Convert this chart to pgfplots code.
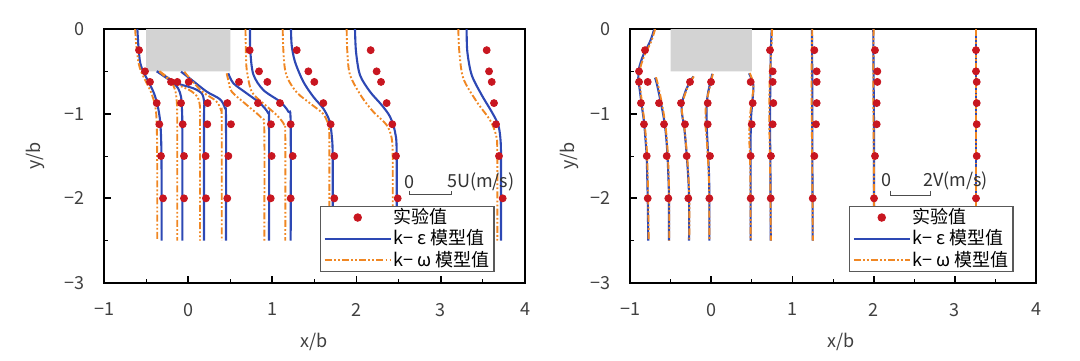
\documentclass[border=0pt]{standalone}
\usepackage{fontspec}
\setmainfont{Noto Sans CJK SC}
\usepackage{pgfplots}
\pgfplotsset{compat=1.18}
\definecolor{kblue}{RGB}{45,72,180}
\definecolor{korange}{RGB}{240,135,35}
\definecolor{dotred}{RGB}{200,22,32}
\definecolor{blockgray}{RGB}{211,211,211}
\tikzset{kwdash/.style={dash pattern=on 3.5pt off 1.1pt on 0.9pt off 1.1pt on 0.9pt off 1.1pt}}
\pgfplotsset{
  ke/.style={kblue, line width=1.05pt, smooth, no marks, forget plot},
  kw/.style={korange, line width=0.95pt, smooth, no marks, forget plot, kwdash},
  ex/.style={only marks, mark=*, mark size=1.75pt, color=dotred, mark options={draw=dotred, fill=dotred}, forget plot},
  myaxis/.style={scale only axis, anchor=south west, height=127pt,
    xmin=-1, xmax=4, ymin=-3, ymax=0,
    xtick={-1,0,1,2,3,4}, xticklabels={−1,0,1,2,3,4},
    ytick={-3,-2,-1,0}, yticklabels={−3,−2,−1,0},
    minor xtick={-0.5,0.5,1.5,2.5,3.5}, minor ytick={-2.5,-1.5,-0.5},
    xtick pos=bottom, ytick pos=left, tick align=inside,
    major tick length=3.4pt, minor tick length=2pt,
    major tick style={black, line width=0.9pt}, minor tick style={black, line width=0.5pt},
    axis line style={line width=0.8pt},
    tick label style={font=\fontsize{9}{10}\selectfont, text=black!75},
    xticklabel style={yshift=-6.5pt}, yticklabel style={xshift=-6pt},
    label style={font=\fontsize{9}{10}\selectfont, text=black!75},
    legend cell align=left,
    legend style={anchor=north west, draw=black!65, line width=0.7pt, fill=white,
      font=\fontsize{9}{10}\selectfont, inner xsep=1.5pt, inner ysep=0.2pt,
      nodes={inner sep=0.8pt}, row sep=0pt},
  }
}
\begin{document}
\begin{tikzpicture}
\path[use as bounding box] (0,0) rectangle (540pt,180pt);
% ---------------- LEFT: U ----------------
\begin{axis}[myaxis, at={(52pt,38.5pt)}, width=210.5pt,
  xlabel={x/b}, ylabel={y/b},
  xlabel style={at={(axis description cs:0.5,-0.231)}, anchor=center},
  ylabel style={at={(axis description cs:-0.164,0.5)}, anchor=center},
  legend style={at={(axis cs:1.565,-2.087)}}]
\addlegendimage{legend image code/.code={\fill[dotred] (16.5pt,0pt) circle (1.75pt);}}
\addlegendentry{实验值}
\addlegendimage{legend image code/.code={\draw[kblue, line width=1.05pt] (0pt,0pt)--(33pt,0pt);}}
\addlegendentry{k− ε 模型值}
\addlegendimage{legend image code/.code={\draw[korange, line width=0.95pt, kwdash] (0pt,0pt)--(33pt,0pt);}}
\addlegendentry{k− ω 模型值}
\addplot[fill=blockgray, draw=none, forget plot] coordinates {(-0.5,0) (0.5,0) (0.5,-0.5) (-0.5,-0.5)} \closedcycle;
% experiments
\addplot[ex] coordinates {
(-0.584,-0.25) (-0.513,-0.5) (-0.454,-0.625) (-0.374,-0.875) (-0.343,-1.125) (-0.323,-1.5) (-0.299,-2.0)
(-0.204,-0.625) (-0.085,-0.875) (-0.065,-1.125) (-0.05,-1.5) (-0.05,-2.0)
(-0.129,-0.625) (0.231,-0.875) (0.227,-1.125) (0.207,-1.5) (0.211,-2.0)
(0.006,-0.625) (0.465,-0.875) (0.508,-1.125) (0.477,-1.5) (0.464,-2.0)
(0.603,-0.625) (0.829,-0.875) (0.983,-1.125) (0.991,-1.5) (0.980,-2.0)
(0.730,-0.25) (0.841,-0.5) (0.94,-0.625) (1.09,-0.875) (1.217,-1.125) (1.241,-1.5) (1.217,-2.0)
(1.289,-0.25) (1.427,-0.5) (1.498,-0.625) (1.605,-0.875) (1.692,-1.125) (1.735,-1.5) (1.735,-2.0)
(2.167,-0.25) (2.238,-0.5) (2.29,-0.625) (2.357,-0.875) (2.424,-1.125) (2.468,-1.5) (2.488,-2.0)
(3.545,-0.25) (3.573,-0.5) (3.605,-0.625) (3.632,-0.875) (3.656,-1.125) (3.691,-1.5) (3.735,-2.0)};
% k-epsilon
\addplot[ke] coordinates {(-0.604,0) (-0.595,-0.15) (-0.588,-0.25) (-0.57,-0.4) (-0.535,-0.5) (-0.47,-0.625) (-0.41,-0.75) (-0.37,-0.875) (-0.345,-1.0) (-0.33,-1.125) (-0.32,-1.35) (-0.316,-1.75) (-0.315,-2.5)};
\addplot[ke] coordinates {(-0.37,-0.5) (-0.30,-0.55) (-0.19,-0.625) (-0.12,-0.7) (-0.085,-0.8) (-0.074,-0.95) (-0.07,-1.2) (-0.07,-2.5)};
\addplot[ke] coordinates {(-0.374,-0.5) (-0.25,-0.57) (-0.137,-0.64) (0.06,-0.70) (0.16,-0.76) (0.19,-0.86) (0.188,-1.0) (0.188,-1.3) (0.188,-2.5)};
\addplot[ke] coordinates {(-0.085,-0.504) (0.04,-0.6) (0.22,-0.74) (0.378,-0.83) (0.437,-0.937) (0.449,-1.08) (0.449,-2.5)};
\addplot[ke] coordinates {(0.476,-0.523) (0.536,-0.64) (0.695,-0.76) (0.853,-0.877) (0.951,-0.996) (0.96,-1.13) (0.96,-2.5)};
\addplot[ke] coordinates {(0.734,0) (0.737,-0.25) (0.773,-0.535) (0.892,-0.72) (1.09,-0.858) (1.19,-0.977) (1.217,-1.11) (1.217,-2.5)};
\addplot[ke] coordinates {(1.221,0) (1.229,-0.19) (1.268,-0.386) (1.367,-0.622) (1.486,-0.8) (1.605,-0.94) (1.676,-1.08) (1.704,-1.25) (1.716,-1.5) (1.716,-2.5)};
\addplot[ke] coordinates {(1.981,0) (1.993,-0.268) (2.04,-0.543) (2.159,-0.74) (2.298,-0.898) (2.397,-1.036) (2.456,-1.213) (2.476,-1.449) (2.476,-2.5)};
\addplot[ke] coordinates {(3.307,0) (3.315,-0.268) (3.367,-0.543) (3.486,-0.78) (3.604,-0.977) (3.683,-1.134) (3.711,-1.331) (3.715,-1.6) (3.715,-2.5)};
% k-omega
\addplot[kw] coordinates {(-0.63,0) (-0.62,-0.15) (-0.61,-0.25) (-0.59,-0.4) (-0.56,-0.5) (-0.5,-0.625) (-0.44,-0.75) (-0.40,-0.875) (-0.38,-1.0) (-0.372,-1.2) (-0.368,-1.6) (-0.367,-2.5)};
\addplot[kw] coordinates {(-0.34,-0.5) (-0.26,-0.56) (-0.2,-0.625) (-0.155,-0.72) (-0.136,-0.85) (-0.131,-1.0) (-0.13,-1.3) (-0.13,-2.5)};
\addplot[kw] coordinates {(-0.343,-0.5) (-0.24,-0.59) (-0.12,-0.66) (0.03,-0.73) (0.11,-0.80) (0.138,-0.9) (0.14,-1.1) (0.14,-2.5)};
\addplot[kw] coordinates {(-0.046,-0.504) (0.05,-0.62) (0.18,-0.75) (0.33,-0.85) (0.39,-0.96) (0.398,-1.1) (0.398,-2.5)};
\addplot[kw] coordinates {(0.457,-0.523) (0.48,-0.62) (0.517,-0.74) (0.695,-0.897) (0.873,-1.055) (0.904,-1.2) (0.904,-2.5)};
\addplot[kw] coordinates {(0.68,0) (0.685,-0.25) (0.695,-0.48) (0.754,-0.74) (0.892,-0.878) (1.05,-1.016) (1.14,-1.13) (1.153,-1.25) (1.153,-2.5)};
\addplot[kw] coordinates {(1.122,0) (1.13,-0.25) (1.15,-0.48) (1.2,-0.62) (1.3,-0.76) (1.45,-0.88) (1.6,-1.0) (1.66,-1.12) (1.676,-1.27) (1.676,-2.5)};
\addplot[kw] coordinates {(1.882,0) (1.89,-0.268) (1.922,-0.543) (2.06,-0.8) (2.198,-0.977) (2.357,-1.134) (2.417,-1.29) (2.429,-1.527) (2.429,-2.5)};
\addplot[kw] coordinates {(3.208,0) (3.22,-0.268) (3.267,-0.583) (3.426,-0.858) (3.584,-1.075) (3.656,-1.252) (3.671,-1.449) (3.671,-2.5)};
% scale
\node[font=\fontsize{9}{10}\selectfont, text=black!80, inner sep=0pt] at (axis cs:2.634,-1.803) {0};
\node[font=\fontsize{9}{10}\selectfont, text=black!80, inner sep=0pt, anchor=west] at (axis cs:3.07,-1.803) {5U(m/s)};
\draw[black!70, line width=0.5pt] (axis cs:2.634,-1.91) -- (axis cs:2.634,-1.96) -- (axis cs:3.133,-1.96) -- (axis cs:3.133,-1.91);
\end{axis}
% ---------------- RIGHT: V ----------------
\begin{axis}[myaxis, at={(315pt,38.5pt)}, width=203pt,
  xlabel={x/b}, ylabel={y/b},
  xlabel style={at={(axis description cs:0.521,-0.231)}, anchor=center},
  ylabel style={at={(axis description cs:-0.148,0.5)}, anchor=center},
  legend style={at={(axis cs:1.697,-2.087)}}]
\addlegendimage{legend image code/.code={\fill[dotred] (14pt,0pt) circle (1.75pt);}}
\addlegendentry{实验值}
\addlegendimage{legend image code/.code={\draw[kblue, line width=1.05pt] (0pt,0pt)--(28pt,0pt);}}
\addlegendentry{k− ε 模型值}
\addlegendimage{legend image code/.code={\draw[korange, line width=0.95pt, kwdash] (0pt,0pt)--(28pt,0pt);}}
\addlegendentry{k− ω 模型值}
\addplot[fill=blockgray, draw=none, forget plot] coordinates {(-0.5,0) (0.5,0) (0.5,-0.5) (-0.5,-0.5)} \closedcycle;
\addplot[ex] coordinates {
(-0.815,-0.25) (-0.889,-0.5) (-0.889,-0.625) (-0.865,-0.875) (-0.828,-1.125) (-0.794,-1.5) (-0.782,-2.0)
(-0.782,-0.625) (-0.643,-0.875) (-0.581,-1.125) (-0.548,-1.5) (-0.528,-2.0)
(-0.261,-0.625) (-0.372,-0.875) (-0.323,-1.125) (-0.302,-1.5) (-0.282,-2.0)
(-0.002,-0.625) (-0.043,-0.875) (-0.043,-1.125) (-0.015,-1.5) (-0.023,-2.0)
(0.486,-0.625) (0.511,-0.875) (0.499,-1.125) (0.486,-1.5) (0.486,-2.0)
(0.724,-0.25) (0.757,-0.5) (0.757,-0.625) (0.765,-0.875) (0.757,-1.125) (0.736,-1.5) (0.733,-2.0)
(1.27,-0.25) (1.299,-0.5) (1.299,-0.625) (1.299,-0.875) (1.29,-1.125) (1.27,-1.5) (1.25,-2.0)
(2.017,-0.25) (2.046,-0.5) (2.046,-0.625) (2.038,-0.875) (2.038,-1.125) (2.017,-1.5) (2.005,-2.0)
(3.261,-0.25) (3.261,-0.5) (3.27,-0.625) (3.27,-0.875) (3.27,-1.125) (3.27,-1.5) (3.261,-2.0)};
\addplot[ke] coordinates {(-0.701,0) (-0.754,-0.15) (-0.836,-0.307) (-0.889,-0.464) (-0.898,-0.582) (-0.877,-0.74) (-0.856,-0.898) (-0.828,-1.095) (-0.807,-1.331) (-0.794,-1.527) (-0.782,-2.0) (-0.775,-2.5)};
\addplot[ke] coordinates {(-0.692,-0.575) (-0.671,-0.641) (-0.631,-0.818) (-0.59,-1.016) (-0.561,-1.213) (-0.541,-1.449) (-0.528,-1.724) (-0.52,-2.0) (-0.52,-2.5)};
\addplot[ke] coordinates {(-0.22,-0.56) (-0.302,-0.70) (-0.356,-0.858) (-0.363,-0.977) (-0.331,-1.173) (-0.302,-1.488) (-0.282,-1.764) (-0.273,-2.0) (-0.273,-2.5)};
\addplot[ke] coordinates {(0.014,-0.53) (-0.036,-0.74) (-0.056,-0.898) (-0.056,-1.134) (-0.044,-1.37) (-0.027,-1.724) (-0.023,-2.0) (-0.023,-2.5)};
\addplot[ke] coordinates {(0.466,-0.523) (0.519,-0.66) (0.507,-0.858) (0.49,-1.055) (0.486,-1.331) (0.486,-2.5)};
\addplot[ke] coordinates {(0.745,0) (0.733,-0.3) (0.729,-0.6) (0.724,-1.1) (0.729,-1.6) (0.733,-2.5)};
\addplot[ke] coordinates {(1.24,0) (1.245,-0.6) (1.245,-1.2) (1.25,-2.5)};
\addplot[ke] coordinates {(1.996,0) (2.0,-0.6) (2.005,-1.2) (2.005,-2.5)};
\addplot[ke] coordinates {(3.261,0) (3.261,-1.0) (3.261,-2.5)};
\addplot[kw] coordinates {(-0.69,0) (-0.74,-0.15) (-0.82,-0.307) (-0.875,-0.464) (-0.885,-0.582) (-0.868,-0.74) (-0.85,-0.898) (-0.822,-1.095) (-0.8,-1.331) (-0.788,-1.527) (-0.776,-2.0) (-0.77,-2.5)};
\addplot[kw] coordinates {(-0.68,-0.57) (-0.66,-0.641) (-0.62,-0.818) (-0.582,-1.016) (-0.555,-1.213) (-0.536,-1.449) (-0.524,-1.724) (-0.517,-2.0) (-0.517,-2.5)};
\addplot[kw] coordinates {(-0.215,-0.56) (-0.295,-0.70) (-0.35,-0.858) (-0.36,-0.977) (-0.33,-1.173) (-0.298,-1.488) (-0.279,-1.764) (-0.27,-2.0) (-0.27,-2.5)};
\addplot[kw] coordinates {(0.02,-0.53) (-0.03,-0.74) (-0.065,-0.898) (-0.07,-1.134) (-0.05,-1.37) (-0.03,-1.724) (-0.025,-2.0) (-0.022,-2.5)};
\addplot[kw] coordinates {(0.475,-0.52) (0.52,-0.66) (0.5,-0.858) (0.475,-1.055) (0.47,-1.331) (0.48,-1.6) (0.486,-2.5)};
\addplot[kw] coordinates {(0.75,0) (0.738,-0.3) (0.72,-0.6) (0.715,-1.1) (0.725,-1.6) (0.735,-2.5)};
\addplot[kw] coordinates {(1.245,0) (1.235,-0.6) (1.24,-1.2) (1.252,-2.5)};
\addplot[kw] coordinates {(2.0,0) (1.995,-0.6) (2.0,-1.2) (2.008,-2.5)};
\addplot[kw] coordinates {(3.265,0) (3.265,-1.0) (3.265,-2.5)};
\node[font=\fontsize{9}{10}\selectfont, text=black!80, inner sep=0pt] at (axis cs:2.161,-1.79) {0};
\node[font=\fontsize{9}{10}\selectfont, text=black!80, inner sep=0pt, anchor=west] at (axis cs:2.608,-1.79) {2V(m/s)};
\draw[black!70, line width=0.5pt] (axis cs:2.202,-1.91) -- (axis cs:2.202,-1.97) -- (axis cs:2.695,-1.97) -- (axis cs:2.695,-1.91);
\end{axis}
\end{tikzpicture}
\end{document}
